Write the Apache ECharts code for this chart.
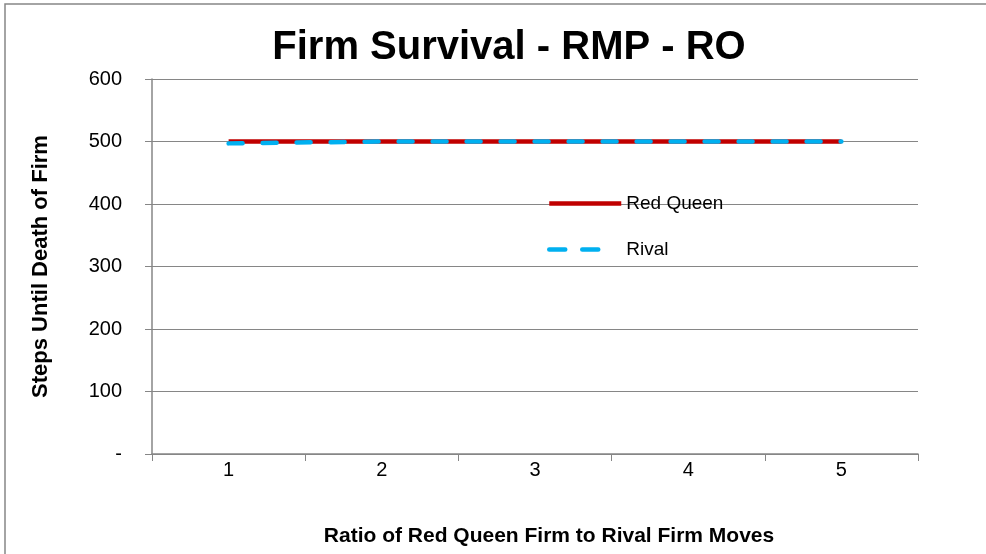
<!DOCTYPE html>
<html>
<head>
<meta charset="utf-8">
<script src="https://cdn.jsdelivr.net/npm/echarts@6/dist/echarts.min.js"></script>
<style>
  html, body { margin: 0; padding: 0; background: #fff; }
  #chart { width: 986px; height: 554px; }
</style>
</head>
<body>
<div id="chart"></div>
<script>
  // data
  var ratios = ['1', '2', '3', '4', '5']
  var redQueen = [500, 500, 500, 500, 500]
  var rival = [497, 500, 500, 500, 500]

  var font = 'Liberation Sans, Arial, sans-serif'
  var chart = echarts.init(document.getElementById('chart'))
  var option = {
    backgroundColor: '#fff',
    animation: false,
    graphic: [{
      type: 'rect',
      shape: { x: 5, y: 4, width: 990, height: 560 },
      style: { fill: 'none', stroke: '#868686', lineWidth: 1.5 }
    }],
    title: {
      text: 'Firm Survival - RMP - RO',
      left: 504,
      top: 23,
      textAlign: 'center',
      textStyle: { fontFamily: font, fontSize: 40, fontWeight: 'bold', color: '#000' }
    },
    legend: {
      orient: 'vertical',
      left: 542,
      top: 189,
      itemWidth: 72,
      itemHeight: 14,
      itemGap: 27,
      itemStyle: { opacity: 0 },
      textStyle: { fontFamily: font, fontSize: 19, color: '#000' },
      data: [
        { name: 'Red Queen', lineStyle: { width: 4.5 } },
        { name: 'Rival', lineStyle: { width: 4.5, type: [16, 17, 16, 100], cap: 'round' } }
      ]
    },
    grid: { left: 152, right: 68, top: 79, bottom: 100, containLabel: false },
    xAxis: {
      type: 'category',
      data: ratios,
      boundaryGap: true,
      name: 'Ratio of Red Queen Firm to Rival Firm Moves',
      nameLocation: 'middle',
      nameGap: 72,
      nameTextStyle: { fontFamily: font, fontSize: 21, fontWeight: 'bold', color: '#000', padding: [0, 0, 0, 28] },
      axisLine: { lineStyle: { color: '#868686', width: 1.5 } },
      axisTick: { show: true, alignWithLabel: false, length: 7, lineStyle: { color: '#868686' } },
      axisLabel: { fontFamily: font, fontSize: 20, color: '#000', margin: 6 }
    },
    yAxis: {
      type: 'value',
      min: 0,
      max: 600,
      interval: 100,
      name: 'Steps Until Death of Firm',
      nameLocation: 'middle',
      nameGap: 100,
      nameTextStyle: { fontFamily: font, fontSize: 22, fontWeight: 'bold', color: '#000' },
      axisLine: { show: true, lineStyle: { color: '#868686', width: 1.5 } },
      axisTick: { show: true, inside: false, length: 7, lineStyle: { color: '#868686' } },
      splitLine: { lineStyle: { color: '#868686', width: 1.2 } },
      axisLabel: {
        fontFamily: font, fontSize: 20, color: '#000', margin: 30,
        formatter: function (v) { return v === 0 ? '-' : String(v) }
      }
    },
    series: [
      {
        name: 'Red Queen',
        type: 'line',
        data: redQueen,
        symbol: 'none',
        lineStyle: { color: '#C00000', width: 4.5 },
        itemStyle: { color: '#C00000' }
      },
      {
        name: 'Rival',
        type: 'line',
        data: rival,
        symbol: 'none',
        lineStyle: { color: '#00B0F0', width: 4.5, type: [14, 20], cap: 'round' },
        itemStyle: { color: '#00B0F0' }
      }
    ]
  }
  chart.setOption(option)
</script>
</body>
</html>
